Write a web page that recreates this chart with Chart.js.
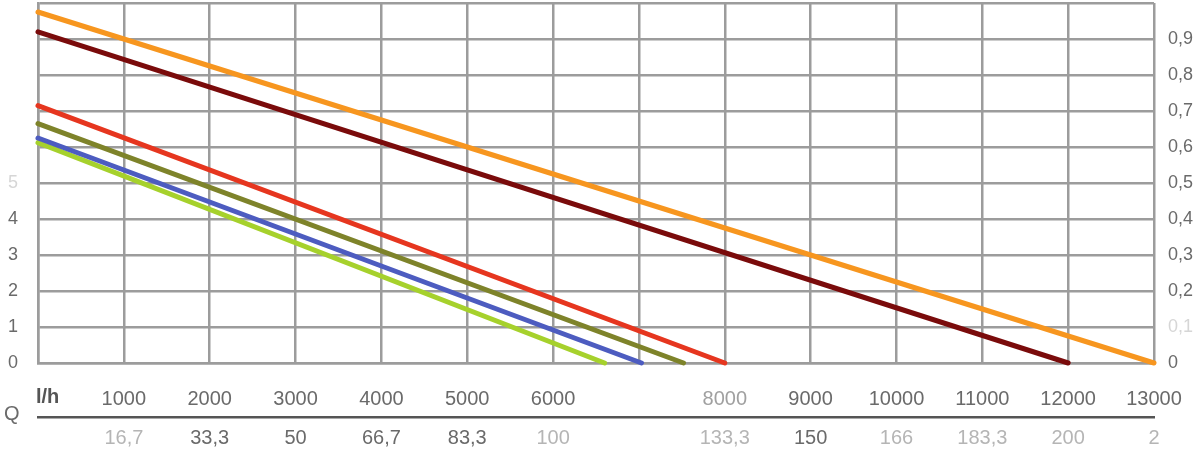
<!DOCTYPE html>
<html>
<head>
<meta charset="utf-8">
<script src="https://cdn.jsdelivr.net/npm/chart.js@4/dist/chart.umd.min.js"></script>
<style>
  html, body { margin: 0; padding: 0; background: #fff; }
  #wrap { width: 1200px; height: 449px; }
</style>
</head>
<body>
<div id="wrap"><canvas id="pumpChart"></canvas></div>
<script>
// flow in l/h (bottom row) and l/min (second row)
const flowTicks = [0, 1000, 2000, 3000, 4000, 5000, 6000, 7000, 8000, 9000, 10000, 11000, 12000, 13000];
const flowLhLabels = ["", "1000", "2000", "3000", "4000", "5000", "6000", "", "8000", "9000", "10000", "11000", "12000", "13000"];
const flowLminLabels = ["", "16,7", "33,3", "50", "66,7", "83,3", "100", "", "133,3", "150", "166", "183,3", "200", "2"];

// head at zero flow (left axis) and max flow per curve
const curveColors = ["#f7961f", "#7a0b0b", "#e6361f", "#7e832a", "#4d5cc0", "#a6d12c"];
const zeroFlowHead = [9.75, 9.2, 7.15, 6.65, 6.25, 6.12];
const maxFlow = [13000, 12000, 8000, 7520, 7030, 6600];

const leftTicks = ["0", "1", "2", "3", "4", "5"];
const rightTicks = ["0", "0,1", "0,2", "0,3", "0,4", "0,5", "0,6", "0,7", "0,8", "0,9"];

const gridColor = "#9c9c9c";
const textColor = "#6a6a6a";
const fadedColor = "#d6d6d6";
const font = "'Liberation Sans', Arial, sans-serif";

const datasets = zeroFlowHead.map((h, i) => ({
  data: [{ x: 0, y: h }, { x: maxFlow[i], y: 0 }],
  borderColor: curveColors[i],
  borderWidth: 5,
  borderCapStyle: "round",
  pointRadius: 0,
  tension: 0,
  clip: false,
}));

// keep the plot box where the reference has it
function noPad(s) {
  s.paddingTop = 0;
  s.paddingBottom = 0;
  s.paddingLeft = 0;
  s.paddingRight = 0;
}

// extra axis captions: "l/h" and "Q"
const captions = {
  id: "captions",
  afterDraw(chart) {
    const ctx = chart.ctx;
    const x = chart.scales.x;
    ctx.save();
    ctx.fillStyle = "#555";
    ctx.textBaseline = "middle";
    ctx.font = "bold 20px " + font;
    ctx.fillText("l/h", x.left - 2, 397);
    ctx.fillStyle = textColor;
    ctx.font = "20px " + font;
    ctx.fillText("Q", 4, 414);
    ctx.restore();
  },
};

new Chart(document.getElementById("pumpChart"), {
  type: "line",
  data: { datasets },
  options: {
    responsive: true,
    maintainAspectRatio: false,
    animation: false,
    layout: { padding: { top: 3 } },
    plugins: { legend: { display: false }, tooltip: { enabled: false } },
    scales: {
      x: {
        type: "linear",
        min: 0,
        max: 13000,
        position: "bottom",
        afterBuildTicks: (s) => { s.ticks = flowTicks.map((v) => ({ value: v })); },
        afterFit: (s) => { s.height = 54; noPad(s); },
        grid: { color: gridColor, lineWidth: 2.5, drawTicks: false },
        border: { color: gridColor, width: 2.5 },
        ticks: {
          padding: 24,
          maxRotation: 0,
          autoSkip: false,
          color: (c) => (c.tick.value === 8000 ? "#a0a0a0" : textColor),
          font: { family: font, size: 20 },
          callback: (v) => flowLhLabels[flowTicks.indexOf(v)],
        },
      },
      x2: {
        type: "linear",
        min: 0,
        max: 13000,
        position: "bottom",
        afterBuildTicks: (s) => { s.ticks = flowTicks.map((v) => ({ value: v })); },
        afterFit: (s) => { s.height = 32; noPad(s); },
        grid: { display: false, drawTicks: false },
        border: { display: true, color: "#555", width: 2.5 },
        ticks: {
          padding: 9,
          maxRotation: 0,
          autoSkip: false,
          color: (c) => ([1000, 6000, 8000, 10000, 11000, 12000, 13000].includes(c.tick.value) ? "#b5b5b5" : textColor),
          font: { family: font, size: 20 },
          callback: (v) => flowLminLabels[flowTicks.indexOf(v)],
        },
      },
      y: {
        type: "linear",
        min: 0,
        max: 10,
        position: "left",
        afterFit: (s) => { s.width = 38; noPad(s); },
        grid: { color: gridColor, lineWidth: 2.5, drawTicks: false },
        border: { color: gridColor, width: 2.5 },
        ticks: {
          stepSize: 1,
          padding: 20,
          color: (c) => (c.tick.value === 5 ? fadedColor : textColor),
          font: { family: font, size: 18 },
          callback: (v) => leftTicks[v] || "",
        },
      },
      y2: {
        type: "linear",
        min: 0,
        max: 1,
        position: "right",
        afterFit: (s) => { s.width = 46; noPad(s); },
        grid: { display: false, drawTicks: false },
        border: { display: false },
        ticks: {
          stepSize: 0.1,
          padding: 14,
          color: (c) => (Math.round(c.tick.value * 10) === 1 ? fadedColor : textColor),
          font: { family: font, size: 18 },
          callback: (v) => rightTicks[Math.round(v * 10)] || "",
        },
      },
    },
  },
  plugins: [captions],
});
</script>
</body>
</html>
